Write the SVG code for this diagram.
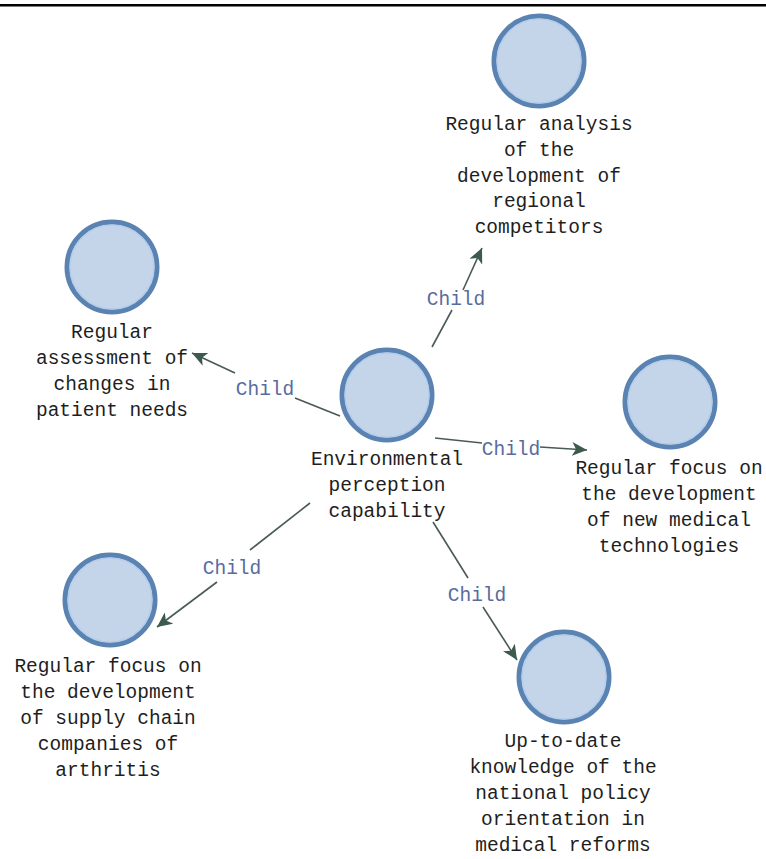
<svg xmlns="http://www.w3.org/2000/svg" width="766" height="859" viewBox="0 0 766 859">
<style>
.node-c{fill:#c4d4e9;stroke:#5b83b2;stroke-width:5}
.node-i{fill:none;stroke:#b3cdec;stroke-width:1.5}
.lbl{font-family:"Liberation Mono","DejaVu Sans Mono",monospace;font-size:19.5px;fill:#1e1e1e;text-anchor:middle}
.edge{stroke:#4a5a55;stroke-width:1.6;fill:none}
.elbl{font-family:"Liberation Mono","DejaVu Sans Mono",monospace;font-size:19.5px;fill:#5a6a9e;text-anchor:middle}
</style>
<defs>
<marker id="arr" markerUnits="userSpaceOnUse" markerWidth="18" markerHeight="14" refX="15" refY="7" orient="auto">
<path d="M0,0 L15,7 L0,14 L4,7 Z" fill="#3d5a4e"/>
</marker>
</defs>
<rect x="0" y="4" width="766" height="2.5" fill="#000"/>
<g id="connectors">
<line class="edge" x1="432" y1="347" x2="452" y2="310"/>
<line class="edge" x1="463" y1="290" x2="482" y2="248" marker-end="url(#arr)"/>
<text class="elbl" x="456" y="305">Child</text>
<line class="edge" x1="340" y1="416" x2="295" y2="398"/>
<line class="edge" x1="235" y1="373" x2="192" y2="353" marker-end="url(#arr)"/>
<text class="elbl" x="265" y="395">Child</text>
<line class="edge" x1="435" y1="438" x2="482" y2="443"/>
<line class="edge" x1="540" y1="447" x2="587" y2="450" marker-end="url(#arr)"/>
<text class="elbl" x="511" y="455">Child</text>
<line class="edge" x1="310" y1="503" x2="250" y2="550"/>
<line class="edge" x1="217" y1="582" x2="157" y2="627" marker-end="url(#arr)"/>
<text class="elbl" x="232" y="574">Child</text>
<line class="edge" x1="433" y1="522" x2="468" y2="578"/>
<line class="edge" x1="483" y1="607" x2="517" y2="660" marker-end="url(#arr)"/>
<text class="elbl" x="477" y="601">Child</text>
</g>
<g id="n-center">
<circle class="node-c" cx="387" cy="395" r="45"/><circle class="node-i" cx="387" cy="395" r="42"/>
<text class="lbl" x="387" y="465">Environmental</text>
<text class="lbl" x="387" y="491">perception</text>
<text class="lbl" x="387" y="517">capability</text>
</g>
<g id="n-top">
<circle class="node-c" cx="539" cy="61" r="45"/><circle class="node-i" cx="539" cy="61" r="42"/>
<text class="lbl" x="539" y="130">Regular analysis</text>
<text class="lbl" x="539" y="156">of the</text>
<text class="lbl" x="539" y="182">development of</text>
<text class="lbl" x="539" y="207">regional</text>
<text class="lbl" x="539" y="233">competitors</text>
</g>
<g id="n-left">
<circle class="node-c" cx="112" cy="267" r="45"/><circle class="node-i" cx="112" cy="267" r="42"/>
<text class="lbl" x="112" y="338">Regular</text>
<text class="lbl" x="112" y="364">assessment of</text>
<text class="lbl" x="112" y="390">changes in</text>
<text class="lbl" x="112" y="416">patient needs</text>
</g>
<g id="n-right">
<circle class="node-c" cx="670" cy="402" r="45"/><circle class="node-i" cx="670" cy="402" r="42"/>
<text class="lbl" x="669" y="474">Regular focus on</text>
<text class="lbl" x="669" y="500">the development</text>
<text class="lbl" x="669" y="526">of new medical</text>
<text class="lbl" x="669" y="552">technologies</text>
</g>
<g id="n-bottom-left">
<circle class="node-c" cx="110" cy="600" r="45"/><circle class="node-i" cx="110" cy="600" r="42"/>
<text class="lbl" x="108" y="672">Regular focus on</text>
<text class="lbl" x="108" y="698">the development</text>
<text class="lbl" x="108" y="724">of supply chain</text>
<text class="lbl" x="108" y="750">companies of</text>
<text class="lbl" x="108" y="776">arthritis</text>
</g>
<g id="n-bottom-right">
<circle class="node-c" cx="564" cy="677" r="45"/><circle class="node-i" cx="564" cy="677" r="42"/>
<text class="lbl" x="563" y="747">Up-to-date</text>
<text class="lbl" x="563" y="773">knowledge of the</text>
<text class="lbl" x="563" y="799">national policy</text>
<text class="lbl" x="563" y="825">orientation in</text>
<text class="lbl" x="563" y="851">medical reforms</text>
</g>
</svg>
